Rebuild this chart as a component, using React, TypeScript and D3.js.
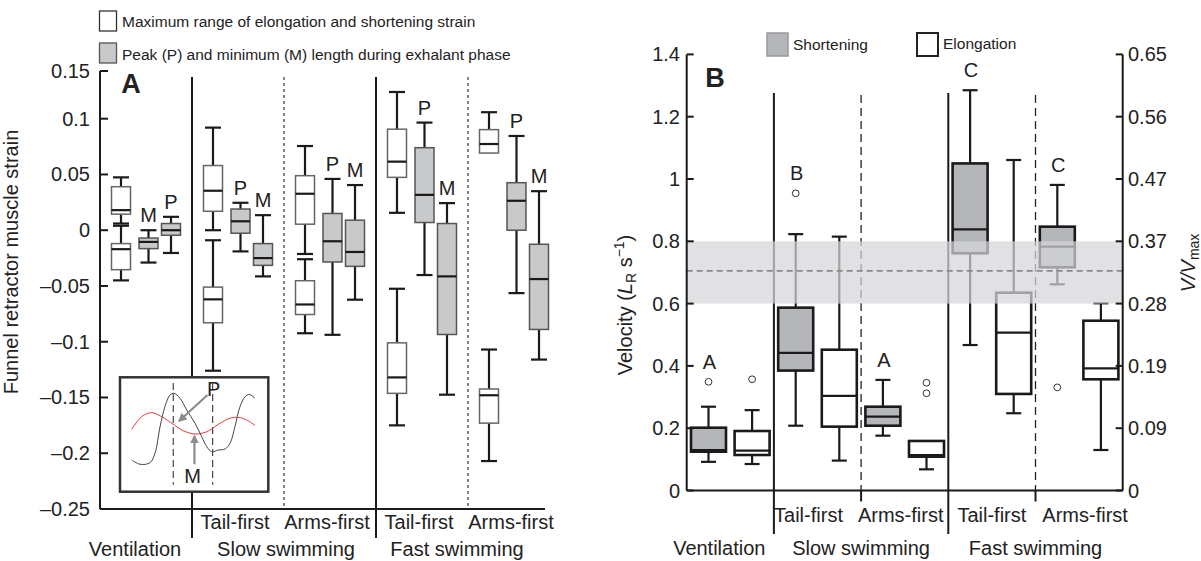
import * as d3 from "d3";

const FONT = "'Liberation Sans', Arial, Helvetica, sans-serif";

// conditions, in the order they appear along the x axis
const conditions = ["vent", "slowTail", "slowArms", "fastTail", "fastArms"];
const modeLabels = ["", "Tail-first", "Arms-first", "Tail-first", "Arms-first"];
const groupLabels = ["Ventilation", "Slow swimming", "Fast swimming"];

// ---- Panel A: strain, each row = [low whisker, q1, median, q3, high whisker]
const elongUpperA = [
  [0.006, 0.0144, 0.018, 0.039, 0.0474],
  [0.0, 0.017, 0.0354, 0.058, 0.092],
  [-0.0213, 0.0054, 0.0327, 0.0489, 0.0755],
  [0.0156, 0.0474, 0.0615, 0.0906, 0.128],
  [0.0692, 0.0692, 0.0773, 0.0902, 0.1068],
];
const elongLowerA = [
  [-0.045, -0.0354, -0.017, -0.012, 0.004],
  [-0.126, -0.083, -0.062, -0.051, -0.009],
  [-0.0924, -0.0756, -0.0666, -0.0453, -0.026],
  [-0.175, -0.1463, -0.132, -0.101, -0.0525],
  [-0.207, -0.173, -0.148, -0.1424, -0.107],
];
const peakA = [
  [-0.0204, -0.0045, 0.0, 0.006, 0.012],
  [-0.019, -0.0027, 0.008, 0.019, 0.0246],
  [-0.0938, -0.0285, -0.0099, 0.015, 0.046],
  [-0.0402, 0.0069, 0.0317, 0.074, 0.0965],
  [-0.0564, 0.0, 0.0264, 0.0426, 0.0845],
];
const minA = [
  [-0.029, -0.0165, -0.0105, -0.007, 0.0],
  [-0.0414, -0.0315, -0.025, -0.012, 0.0135],
  [-0.0623, -0.0324, -0.0195, 0.009, 0.0405],
  [-0.1475, -0.0935, -0.0414, 0.006, 0.0243],
  [-0.116, -0.089, -0.0438, -0.0126, 0.035],
];
const grayOrderA = [["M", "P"], ["P", "M"], ["P", "M"], ["P", "M"], ["P", "M"]];
const strainTicks = [-0.25, -0.2, -0.15, -0.1, -0.05, 0, 0.05, 0.1, 0.15];
const strainTickLabels = ["\u20130.25", "\u20130.2", "\u20130.15", "\u20130.1", "\u20130.05", "0", "0.05", "0.1", "0.15"];

// inset sketch (normalised 0..1 inside the inset frame)
const insetMuscle = [
  [0.079, 0.723], [0.135, 0.76], [0.202, 0.747], [0.236, 0.664], [0.27, 0.432], [0.303, 0.257],
  [0.337, 0.155], [0.364, 0.14], [0.405, 0.184], [0.45, 0.286], [0.506, 0.402], [0.551, 0.519],
  [0.585, 0.607], [0.618, 0.65], [0.663, 0.636], [0.708, 0.627], [0.742, 0.577], [0.775, 0.432],
  [0.809, 0.257], [0.843, 0.17], [0.872, 0.149], [0.91, 0.184],
];
const insetPressure = [
  [0.079, 0.455], [0.146, 0.344], [0.214, 0.309], [0.281, 0.344], [0.359, 0.411], [0.427, 0.467],
  [0.506, 0.496], [0.585, 0.476], [0.663, 0.411], [0.742, 0.358], [0.798, 0.35], [0.854, 0.373],
  [0.91, 0.42],
];
const insetPhase = [0.359, 0.625];

// ---- Panel B: velocity (L_R s^-1), [low whisker, q1, median, q3, high whisker]
const shorteningB = [
  [0.092, 0.1246, 0.13, 0.2016, 0.269],
  [0.208, 0.385, 0.442, 0.587, 0.823],
  [0.176, 0.208, 0.237, 0.269, 0.355],
  [0.467, 0.7615, 0.8385, 1.05, 1.285],
  [0.662, 0.7165, 0.7827, 0.847, 0.981],
];
const shorteningOutB = [[0.349], [0.954], [], [], [0.331]];
const elongationB = [
  [0.085, 0.114, 0.128, 0.191, 0.258],
  [0.096, 0.205, 0.304, 0.452, 0.815],
  [0.068, 0.1086, 0.114, 0.159, 0.159],
  [0.248, 0.31, 0.5066, 0.635, 1.061],
  [0.13, 0.357, 0.392, 0.545, 0.601],
];
const elongationOutB = [[0.357], [], [0.312, 0.346], [], []];
const sigLettersB = ["A", "B", "A", "C", "C"];
const optimalBand = [0.6, 0.8];
const optimalMean = 0.705;
const velocityTicks = [0, 0.2, 0.4, 0.6, 0.8, 1, 1.2, 1.4];
const vmaxTickLabels = ["0", "0.09", "0.19", "0.28", "0.37", "0.47", "0.56", "0.65"];

// ---------- scales
const yA = d3.scaleLinear().domain([-0.25, 0.1, 0.15]).range([509, 118.7, 71]);
const xA = d3.scaleBand().domain(conditions).range([100, 560]);
const slotA = d3.scaleLinear().domain([0, 1, 2]).range([21, 48.5, 71]);
const yB = d3.scaleLinear().domain([0, 1.4]).range([490.5, 54.4]);
const xB = d3.scaleBand().domain(conditions).range([686.7, 1122.7]);
const slotB = d3.scaleBand().domain(["Shortening", "Elongation"]).range([0, xB.bandwidth()]);

type BoxProps = {
  cx: number; w: number; v: number[]; y: (n: number) => number;
  fill: string; stroke: string; sw: number; cap: number; lw: number;
};
function Box({ cx, w, v, y, fill, stroke, sw, cap, lw }: BoxProps) {
  const [lo, q1, md, q3, hi] = v;
  return (
    <g>
      {lo < q1 && <line x1={cx} x2={cx} y1={y(lo)} y2={y(q1)} stroke="#1a1a1a" strokeWidth={lw} />}
      {lo < q1 && <line x1={cx - cap / 2} x2={cx + cap / 2} y1={y(lo)} y2={y(lo)} stroke="#1a1a1a" strokeWidth={lw} />}
      {hi > q3 && <line x1={cx} x2={cx} y1={y(q3)} y2={y(hi)} stroke="#1a1a1a" strokeWidth={lw} />}
      {hi > q3 && <line x1={cx - cap / 2} x2={cx + cap / 2} y1={y(hi)} y2={y(hi)} stroke="#1a1a1a" strokeWidth={lw} />}
      <rect x={cx - w / 2} y={y(q3)} width={w} height={y(q1) - y(q3)} fill={fill} stroke={stroke} strokeWidth={sw} />
      <line x1={cx - w / 2} x2={cx + w / 2} y1={y(md)} y2={y(md)} stroke="#1a1a1a" strokeWidth={lw} />
    </g>
  );
}

const line = d3.line().curve(d3.curveCatmullRom.alpha(0.5));

function PanelA() {
  const bw = xA.bandwidth();
  const boxW = 19;
  const inset = { x: 120, y: 377.3, w: 148.3, h: 114.4 };
  const ix = d3.scaleLinear().domain([0, 1]).range([inset.x, inset.x + inset.w]);
  const iy = d3.scaleLinear().domain([0, 1]).range([inset.y, inset.y + inset.h]);
  const solidAfter = [0, 2];
  const dottedAfter = [1, 3];
  return (
    <g fontFamily={FONT} fill="#222">
      {/* legend */}
      <rect x={99.5} y={11} width={17} height={20} fill="#fff" stroke="#333" strokeWidth={1.3} />
      <text x={122} y={22} dy="0.35em" fontSize={15.5}>Maximum range of elongation and shortening strain</text>
      <rect x={99.5} y={43} width={17} height={20} fill="#c8c9cb" stroke="#555" strokeWidth={1.3} />
      <text x={122} y={55} dy="0.35em" fontSize={15.5}>Peak (P) and minimum (M) length during exhalant phase</text>

      {/* separators */}
      {solidAfter.map((i) => {
        const x = xA(conditions[i])! + bw;
        return <line key={"s" + i} x1={x} x2={x} y1={77} y2={538} stroke="#1a1a1a" strokeWidth={2} />;
      })}
      {dottedAfter.map((i) => {
        const x = xA(conditions[i])! + bw;
        return <line key={"d" + i} x1={x} x2={x} y1={77} y2={yA(-0.25)} stroke="#333" strokeWidth={1.2} strokeDasharray="3 3" />;
      })}

      {/* boxes */}
      {conditions.map((c, i) => {
        const x0 = xA(c)!;
        const cxR = x0 + slotA(0);
        const grays = grayOrderA[i].map((k, j) => ({ k, v: k === "P" ? peakA[i] : minA[i], cx: x0 + slotA(j + 1) }));
        return (
          <g key={c}>
            <Box cx={cxR} w={boxW} v={elongUpperA[i]} y={yA} fill="#fff" stroke="#666" sw={1.5} cap={16} lw={2.2} />
            <Box cx={cxR} w={boxW} v={elongLowerA[i]} y={yA} fill="#fff" stroke="#666" sw={1.5} cap={16} lw={2.2} />
            {grays.map((g) => (
              <g key={g.k}>
                <Box cx={g.cx} w={boxW} v={g.v} y={yA} fill="#c8c9cb" stroke="#555" sw={1.5} cap={16} lw={2.2} />
                <text x={g.cx} y={yA(g.v[4]) - 15} dy="0.35em" textAnchor="middle" fontSize={20}>{g.k}</text>
              </g>
            ))}
          </g>
        );
      })}

      {/* inset */}
      <rect x={inset.x} y={inset.y} width={inset.w} height={inset.h} fill="#fff" stroke="#333" strokeWidth={2.5} />
      {insetPhase.map((p) => (
        <line key={p} x1={ix(p)} x2={ix(p)} y1={iy(0.05)} y2={iy(0.94)} stroke="#222" strokeWidth={1} strokeDasharray="7 4" />
      ))}
      <path d={line(insetPressure.map(([a, b]) => [ix(a), iy(b)] as [number, number]))!} fill="none" stroke="#e8383d" strokeWidth={1} />
      <path d={line(insetMuscle.map(([a, b]) => [ix(a), iy(b)] as [number, number]))!} fill="none" stroke="#444" strokeWidth={1} />
      <line x1={ix(0.59)} y1={iy(0.155)} x2={ix(0.4)} y2={iy(0.38)} stroke="#8c8c8c" strokeWidth={2.2} markerEnd="url(#arrowA)" />
      <line x1={ix(0.502)} y1={iy(0.76)} x2={ix(0.502)} y2={iy(0.515)} stroke="#8c8c8c" strokeWidth={2.2} markerEnd="url(#arrowA)" />
      <text x={ix(0.631)} y={iy(0.1)} dy="0.35em" textAnchor="middle" fontSize={20}>P</text>
      <text x={ix(0.489)} y={iy(0.86)} dy="0.35em" textAnchor="middle" fontSize={20}>M</text>

      {/* axes */}
      <line x1={100} x2={100} y1={yA(0.15)} y2={yA(-0.25)} stroke="#1a1a1a" strokeWidth={2} />
      <line x1={100} x2={545} y1={yA(-0.25)} y2={yA(-0.25)} stroke="#1a1a1a" strokeWidth={2} />
      {strainTicks.map((t, i) => (
        <g key={t}>
          <line x1={100} x2={108} y1={yA(t)} y2={yA(t)} stroke="#1a1a1a" strokeWidth={2} />
          <text x={90} y={yA(t)} dy="0.35em" textAnchor="end" fontSize={20}>{strainTickLabels[i]}</text>
        </g>
      ))}
      <text x={131} y={84} dy="0.35em" textAnchor="middle" fontSize={27} fontWeight="bold">A</text>
      <text transform="translate(18,262) rotate(-90)" textAnchor="middle" fontSize={20}>Funnel retractor muscle strain</text>

      {/* x labels */}
      {conditions.map((c, i) =>
        modeLabels[i] ? (
          <text key={c} x={xA(c)! + bw / 2 - 3} y={521.7} dy="0.35em" textAnchor="middle" fontSize={20}>{modeLabels[i]}</text>
        ) : null
      )}
      <text x={xA("vent")! + bw / 2 - 11} y={549} dy="0.35em" textAnchor="middle" fontSize={20}>{groupLabels[0]}</text>
      <text x={xA("slowArms")! + 2} y={549} dy="0.35em" textAnchor="middle" fontSize={20}>{groupLabels[1]}</text>
      <text x={xA("fastArms")! - 11} y={549} dy="0.35em" textAnchor="middle" fontSize={20}>{groupLabels[2]}</text>
    </g>
  );
}

function PanelB() {
  const bw = xB.bandwidth();
  const boxW = 35;
  const left = 686.7;
  const right = 1122.7;
  const labelNudge = [0, -9, -4, 0, 6];
  return (
    <g fontFamily={FONT} fill="#222">
      {/* legend */}
      <rect x={767} y={33} width={21} height={23} fill="#b5b6b9" stroke="#9a9a9c" strokeWidth={1.5} />
      <text x={793} y={45} dy="0.35em" fontSize={15.5}>Shortening</text>
      <rect x={917} y={33} width={21} height={23} fill="#fff" stroke="#222" strokeWidth={2} />
      <text x={943} y={44} dy="0.35em" fontSize={15.5}>Elongation</text>

      {/* separators */}
      {[0, 2].map((i) => {
        const x = xB(conditions[i])! + bw;
        return <line key={"s" + i} x1={x} x2={x} y1={93} y2={534} stroke="#1a1a1a" strokeWidth={2} />;
      })}
      {[1, 3].map((i) => {
        const x = xB(conditions[i])! + bw;
        return (
          <g key={"d" + i}>
            <line x1={x} x2={x} y1={95} y2={yB(0)} stroke="#222" strokeWidth={1.3} strokeDasharray="8 5" />
            <line x1={x} x2={x} y1={yB(0)} y2={yB(0) + 11} stroke="#1a1a1a" strokeWidth={2} />
          </g>
        );
      })}

      {/* boxes */}
      {conditions.map((c, i) => {
        const cxS = xB(c)! + slotB("Shortening")! + slotB.bandwidth() / 2;
        const cxE = xB(c)! + slotB("Elongation")! + slotB.bandwidth() / 2;
        const topS = Math.max(shorteningB[i][4], ...shorteningOutB[i]);
        return (
          <g key={c}>
            <Box cx={cxS} w={boxW} v={shorteningB[i]} y={yB} fill="#b5b6b9" stroke="#1a1a1a" sw={2.6} cap={15} lw={2.2} />
            <Box cx={cxE} w={boxW} v={elongationB[i]} y={yB} fill="#fff" stroke="#1a1a1a" sw={2.6} cap={15} lw={2.2} />
            {shorteningOutB[i].map((o) => (
              <circle key={o} cx={cxS} cy={yB(o)} r={3.4} fill="#fff" stroke="#333" strokeWidth={1} />
            ))}
            {elongationOutB[i].map((o) => (
              <circle key={o} cx={cxE} cy={yB(o)} r={3.4} fill="#fff" stroke="#333" strokeWidth={1} />
            ))}
            <text x={cxS + 1} y={yB(topS) - 20} dy="0.35em" textAnchor="middle" fontSize={20}>{sigLettersB[i]}</text>
          </g>
        );
      })}

      {/* optimal range band, drawn over the boxes */}
      <rect x={left} y={yB(optimalBand[1])} width={right - left} height={yB(optimalBand[0]) - yB(optimalBand[1])} fill="#d6d6d9" opacity={0.72} />
      <line x1={left} x2={right} y1={yB(optimalMean)} y2={yB(optimalMean)} stroke="#8a8a8c" strokeWidth={1.6} strokeDasharray="6 4" />

      {/* axes */}
      <line x1={left} x2={left} y1={yB(1.4)} y2={yB(0)} stroke="#1a1a1a" strokeWidth={2} />
      <line x1={right} x2={right} y1={yB(1.4)} y2={yB(0)} stroke="#1a1a1a" strokeWidth={2} />
      <line x1={left} x2={right} y1={yB(0)} y2={yB(0)} stroke="#1a1a1a" strokeWidth={2} />
      {velocityTicks.map((t, i) => (
        <g key={t}>
          <line x1={left} x2={left + 7} y1={yB(t)} y2={yB(t)} stroke="#1a1a1a" strokeWidth={2} />
          <line x1={right - 7} x2={right} y1={yB(t)} y2={yB(t)} stroke="#1a1a1a" strokeWidth={2} />
          <text x={680} y={yB(t)} dy="0.35em" textAnchor="end" fontSize={20}>{String(t)}</text>
          <text x={1128} y={yB(t)} dy="0.35em" textAnchor="start" fontSize={20}>{vmaxTickLabels[i]}</text>
        </g>
      ))}
      <text x={715} y={78} dy="0.35em" textAnchor="middle" fontSize={27} fontWeight="bold">B</text>
      <text transform="translate(632,305) rotate(-90)" textAnchor="middle" fontSize={20}>
        Velocity (<tspan fontStyle="italic">L</tspan>
        <tspan fontSize={14} dy={4}>R</tspan>
        <tspan dy={-4}> s</tspan>
        <tspan fontSize={14} dy={-8}>{"\u22121"}</tspan>
        <tspan dy={8}>)</tspan>
      </text>
      <text transform="translate(1195,263) rotate(-90)" textAnchor="middle" fontSize={20}>
        <tspan fontStyle="italic">V/V</tspan>
        <tspan fontSize={14} dy={4}>max</tspan>
      </text>

      {/* x labels */}
      {conditions.map((c, i) =>
        modeLabels[i] ? (
          <text key={c} x={xB(c)! + bw / 2 + labelNudge[i]} y={515} dy="0.35em" textAnchor="middle" fontSize={20}>{modeLabels[i]}</text>
        ) : null
      )}
      <text x={xB("vent")! + bw / 2 - 11} y={548} dy="0.35em" textAnchor="middle" fontSize={20}>{groupLabels[0]}</text>
      <text x={xB("slowArms")!} y={548} dy="0.35em" textAnchor="middle" fontSize={20}>{groupLabels[1]}</text>
      <text x={xB("fastArms")!} y={548} dy="0.35em" textAnchor="middle" fontSize={20}>{groupLabels[2]}</text>
    </g>
  );
}

export default function App() {
  return (
    <svg width={1201} height={561} style={{ position: "absolute", left: 0, top: 0, background: "#fff" }}>
      <defs>
        <marker id="arrowA" viewBox="0 0 10 10" refX={8} refY={5} markerWidth={4} markerHeight={4} orient="auto">
          <path d="M0,0 L10,5 L0,10 z" fill="#8c8c8c" />
        </marker>
      </defs>
      <rect width={1201} height={561} fill="#fff" />
      <PanelA />
      <PanelB />
    </svg>
  );
}
